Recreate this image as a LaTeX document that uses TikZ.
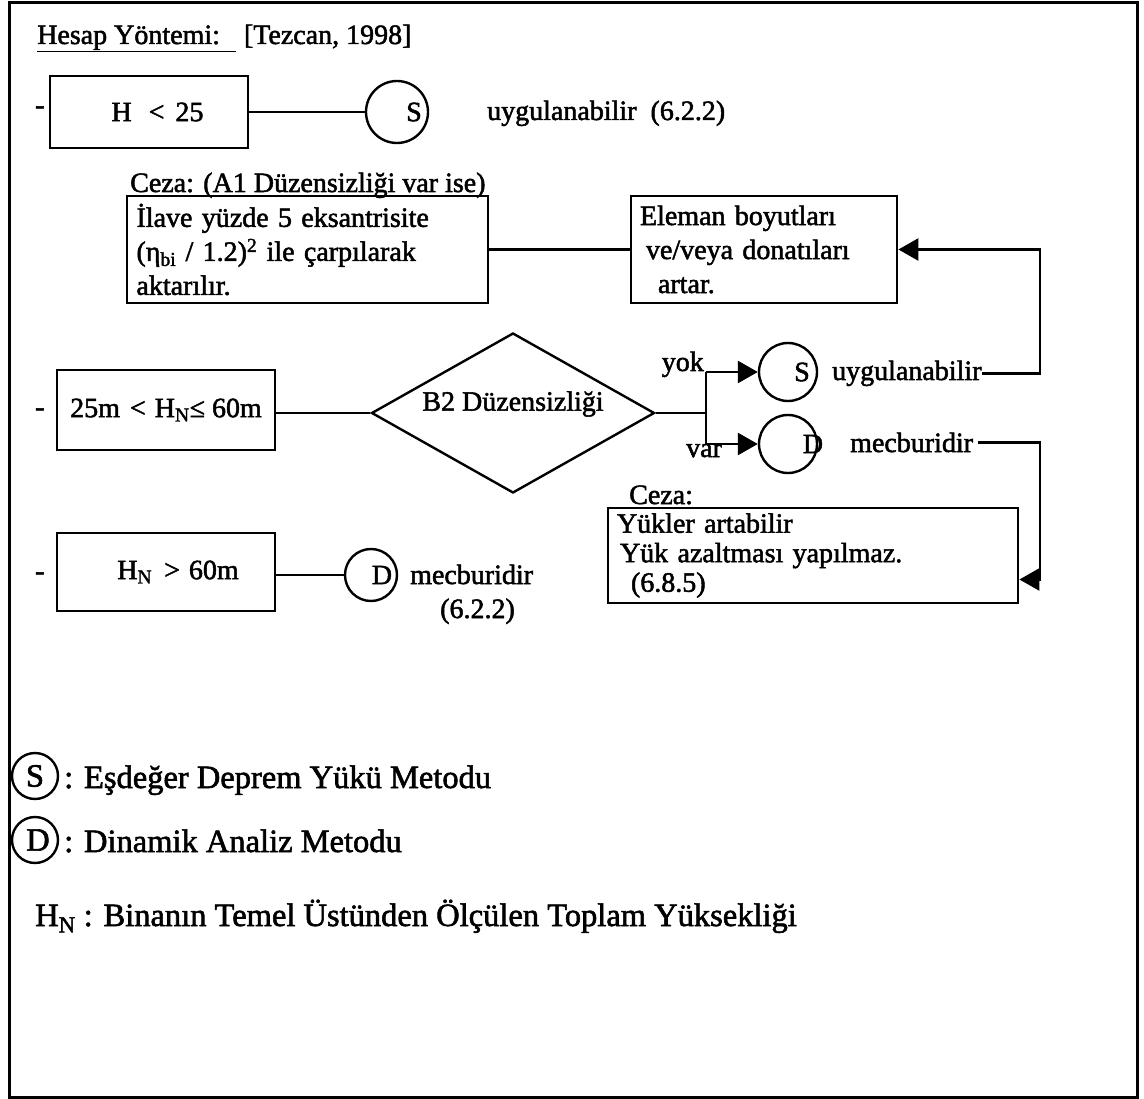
\documentclass[tikz,border=0pt]{standalone}
\usepackage{fontspec}
\setmainfont{Liberation Serif}[FakeBold=1.8]
\usetikzlibrary{arrows.meta,shapes.geometric}
\begin{document}
\begin{tikzpicture}[x=1pt,y=-1pt,
  every node/.style={font=\fontsize{28}{34}\selectfont, inner sep=0pt},
  txt/.style={anchor=base west},
  ln/.style={line width=2.6pt},
  boxn/.style={draw, rectangle, line width=2.8pt},
  circ/.style={draw, circle, line width=2.4pt},
  arr/.style={line width=2.6pt, -{Triangle[length=20pt,width=22pt]}},
  leg/.style={font=\fontsize{32.5}{38}\selectfont}
]
\useasboundingbox (0,0) rectangle (1144,1099);
\fill[white] (0,0) rectangle (1144,1099);
\draw[line width=3pt] (9,3) rectangle (1137,1097);

% title
\node[txt] (title) at (37,44) {\underline{Hesap Yöntemi:\hspace{16pt}}\hspace{8pt}[Tezcan, 1998]};

% row 1
\node[txt] (d1) at (35,114) {-};
\node[boxn, minimum width=198, minimum height=72] (A) at (149,112) {\hspace*{17pt}H\hspace{17pt}<\hspace{11pt}25};
\node[circ, minimum size=62] (S1) at (397,112) {};
\node (S1t) at (414,112) {S};
\draw[ln] (A.east) -- (S1.west);
\node[txt] (u1) at (487,120) {uygulanabilir\ \ (6.2.2)};

% penalty A1
\node[txt] (ceza1) at (130,192) {Ceza: (A1 Düzensizliği var ise)};
\node[boxn, minimum width=361, minimum height=107, text width=342, align=left] (B) at (307.5,249.5)
  {İlave yüzde 5 eksantrisite\\(η\textsubscript{bi} / 1.2)\textsuperscript{2} ile çarpılarak\\aktarılır.};
\node[boxn, minimum width=266, minimum height=107, text width=248, align=left] (C) at (764,249.5)
  {Eleman boyutları\\\hspace*{6pt}ve/veya donatıları\\\hspace*{18pt}artar.};
\draw[ln] (B.east) -- (C.west);

% row 2
\node[txt] (d2) at (35,416) {-};
\node[boxn, minimum width=218, minimum height=80] (D) at (166,410) {25m\hspace{10pt}<\hspace{9pt}H\textsubscript{N}≤ 60m};
\node[diamond, draw, line width=2.4pt, minimum width=283, minimum height=160, aspect=1.77] (dia) at (513,413) {};
\node (diat) at (513,404) {B2 Düzensizliği};
\draw[ln] (D.east |- dia.west) -- (dia.west);
\coordinate (br) at (706,413);
\coordinate (bt) at (706,372);
\coordinate (bb) at (706,444);
\draw[ln] (dia.east) -- (br);
\draw[ln] (bt) -- (bb);
\node[circ, minimum size=58] (S2) at (788,372) {};
\node (S2t) at (802,372) {S};
\node[circ, minimum size=58] (D2) at (788,444) {};
\node (D2t) at (813,444) {D};
\draw[arr] (bt) -- (S2.west);
\draw[arr] (bb) -- (D2.west);
\node[anchor=base east] (yok) at (704,371) {yok};
\node[txt] (var) at (686,457) {var};
\node[txt] (u2) at (832,380) {uygulanabilir};
\node[txt] (m2) at (850,452) {mecburidir};
\coordinate (rx) at (1040,0);
\draw[arr] (u2.east) -- (u2.east -| rx) |- (C.east);

\node[txt] (ceza2) at (629,504) {Ceza:};
\node[boxn, minimum width=410, minimum height=95, text width=392, align=left,
      font=\fontsize{28}{29.5}\selectfont] (E) at (813,555.5)
  {Yükler artabilir\\\hspace*{3pt}Yük azaltması yapılmaz.\\\hspace*{14pt}(6.8.5)};
\draw[arr] ([xshift=5pt]m2.east) -- (m2.east -| rx) |- ([yshift=-24pt]E.east);

% row 3
\node[txt] (d3) at (35,580) {-};
\node[boxn, minimum width=218, minimum height=78] (F) at (166,572) {\hspace*{24pt}H\textsubscript{N}\hspace{12pt}>\hspace{9pt}60m};
\node[circ, minimum size=52] (D3) at (371,575) {};
\node (D3t) at (382,575) {D};
\draw[ln] (F.east |- D3.west) -- (D3.west);
\node[txt] (m3) at (410,584) {mecburidir};
\node[txt] (p3) at (440,618) {(6.2.2)};

% legend
\node[circ, minimum size=46] (LS) at (35,776) {};
\node[leg] (LSt) at (35,776) {S};
\node[txt, leg] (LSd) at (64,788) {: Eşdeğer Deprem Yükü Metodu};
\node[circ, minimum size=46] (LD) at (35,840) {};
\node[leg] (LDt) at (38,840) {D};
\node[txt, leg] (LDd) at (64,852) {: Dinamik Analiz Metodu};
\node[txt, leg] (LH) at (35,926) {H\textsubscript{N} : Binanın Temel Üstünden Ölçülen Toplam Yüksekliği};
\end{tikzpicture}
\end{document}
